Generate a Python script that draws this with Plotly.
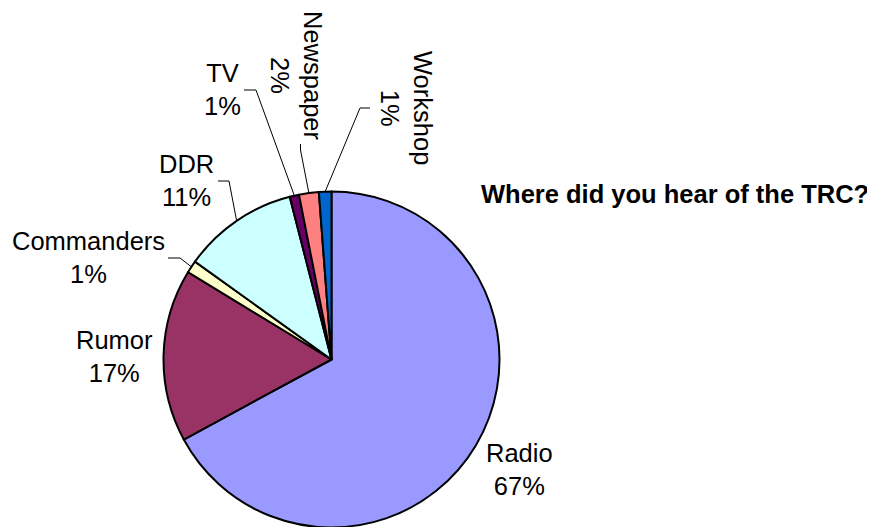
import math
import plotly.graph_objects as go

# ---- data ----
categories = ["Radio", "Rumor", "Commanders", "DDR", "TV", "Newspaper", "Workshop"]
shares = [67.1, 16.6, 1.2, 11.1, 0.9, 1.9, 1.2]
colors = ["#9999FF", "#993366", "#FFFFCC", "#CCFFFF", "#660066", "#FF8080", "#0066CC"]
title_text = "Where did you hear of the TRC?"

# ---- layout constants (pixels, screen coords) ----
W, H = 875, 527
OFF = 8  # page body margin
CX, CY, R = 331.5, 359.5, 168.0

FONT = "Liberation Sans, Arial, sans-serif"
FS = 25.5

# label block centres (screen px), rotation, and leader elbows (screen px)
label_pos = {
    "Radio": (519.5, 469, 0, None),
    "Rumor": (114.5, 356, 0, None),
    "Commanders": (88, 257.5, 0, [(168, 258), (180, 258)]),
    "DDR": (186.7, 180, 0, [(218, 181), (229, 181)]),
    "TV": (222, 89.5, 0, [(244, 90), (256, 90)]),
    "Newspaper": (297, 75, 90, [(300.5, 144), (300.5, 150)]),
    "Workshop": (406, 108, 90, [(370, 108), (360, 108)]),
}


def px(x):
    return (x - OFF) / W


def py(y):
    return 1 - (y - OFF) / H


fig = go.Figure()
fig.add_trace(go.Pie(
    labels=categories,
    values=shares,
    sort=False,
    direction="clockwise",
    rotation=0,
    marker=dict(colors=colors, line=dict(color="black", width=2)),
    textinfo="none",
    hoverinfo="skip",
    showlegend=False,
    domain=dict(x=[px(CX - R), px(CX + R)], y=[py(CY + R), py(CY - R)]),
))

total = sum(shares)
annotations = []
shapes = []
cum = 0.0
for name, v in zip(categories, shares):
    mid = (cum + v / 2) / total * 2 * math.pi
    cum += v
    ex = CX + R * math.sin(mid)
    ey = CY - R * math.cos(mid)
    lx, ly, rot, elbow = label_pos[name]
    pct = round(v / total * 100)
    annotations.append(dict(
        x=px(lx), y=py(ly), xref="paper", yref="paper",
        text=f"{name}<br>{pct}%", showarrow=False,
        xanchor="center", yanchor="middle", textangle=rot,
        font=dict(family=FONT, size=FS, color="black"), align="center",
    ))
    if elbow:
        pts = elbow + [(ex, ey)]
        path = "M " + " L ".join(f"{px(a)},{py(b)}" for a, b in pts)
        shapes.append(dict(type="path", path=path, xref="paper", yref="paper",
                           line=dict(color="black", width=1)))

annotations.append(dict(
    x=px(675), y=py(194), xref="paper", yref="paper",
    text=f"<b>{title_text}</b>", showarrow=False,
    xanchor="center", yanchor="middle",
    font=dict(family=FONT, size=FS, color="black"),
))

fig.update_layout(
    width=W, height=H,
    margin=dict(l=0, r=0, t=0, b=0),
    paper_bgcolor="white", plot_bgcolor="white",
    annotations=annotations, shapes=shapes,
)

fig.write_html("out.html")
